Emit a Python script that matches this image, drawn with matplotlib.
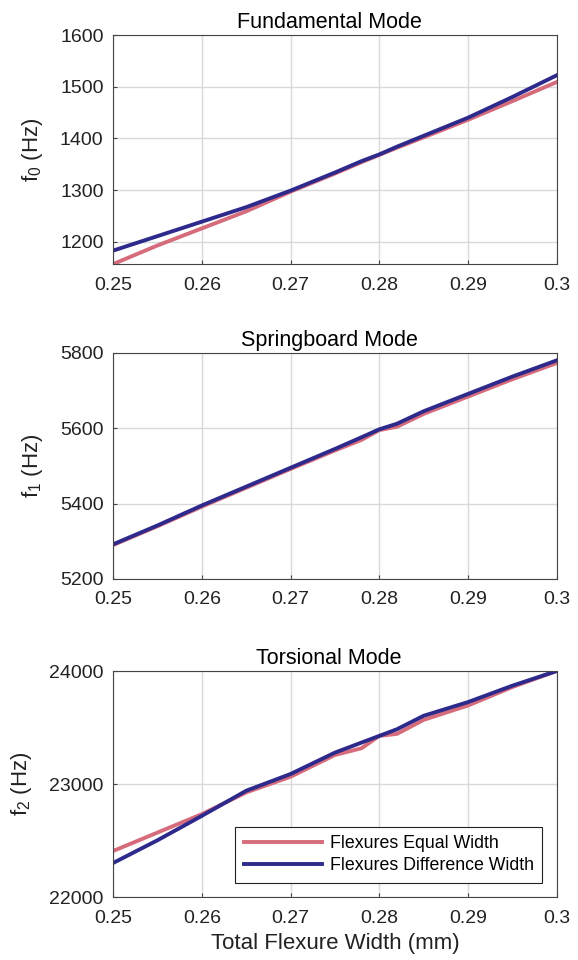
import numpy as np
import matplotlib.pyplot as plt

plt.rcParams['font.family'] = ['Liberation Sans', 'DejaVu Sans']
plt.rcParams['mathtext.default'] = 'regular'

width = [0.25, 0.255, 0.26, 0.265, 0.27, 0.275, 0.278, 0.28, 0.282, 0.285, 0.29, 0.295, 0.30]

# fundamental mode (Hz)
f0_equal = [1157, 1193, 1226, 1259, 1297, 1332, 1354, 1368, 1382, 1402, 1436, 1472, 1509]
f0_diff = [1183, 1211, 1239, 1267, 1299, 1334, 1356, 1369, 1384, 1405, 1440, 1480, 1522]

# springboard mode (Hz)
f1_equal = [5290, 5340, 5392, 5442, 5492, 5541, 5569, 5595, 5604, 5638, 5684, 5730, 5773]
f1_diff = [5292, 5342, 5395, 5445, 5495, 5545, 5576, 5597, 5612, 5645, 5691, 5737, 5780]

# torsional mode (Hz)
f2_equal = [22408, 22571, 22734, 22926, 23065, 23257, 23317, 23426, 23444, 23568, 23695, 23858, 24000]
f2_diff = [22302, 22503, 22719, 22941, 23089, 23278, 23367, 23426, 23485, 23604, 23725, 23870, 24000]

titles = ['Fundamental Mode', 'Springboard Mode', 'Torsional Mode']
ylabels = ['f$_0$ (Hz)', 'f$_1$ (Hz)', 'f$_2$ (Hz)']
ylims = [(1157, 1600), (5200, 5800), (22000, 24000)]
yticks = [[1200, 1300, 1400, 1500, 1600], [5200, 5400, 5600, 5800], [22000, 23000, 24000]]
data = [(f0_equal, f0_diff), (f1_equal, f1_diff), (f2_equal, f2_diff)]

red = '#d66b7b'
blue = '#2d2a8c'

fig = plt.figure(figsize=(5.78, 9.6), dpi=100)
bottoms = [0.725, 0.397, 0.0656]
heights = [0.2385, 0.2354, 0.2354]

for i in range(3):
    ax = fig.add_axes([0.196, bottoms[i], 0.767, heights[i]])
    eq, df = data[i]
    ax.plot(width, eq, color=red, lw=2.8, label='Flexures Equal Width')
    ax.plot(width, df, color=blue, lw=2.8, label='Flexures Difference Width')
    ax.set_xlim(0.25, 0.30)
    ax.set_ylim(*ylims[i])
    ax.set_xticks([0.25, 0.26, 0.27, 0.28, 0.29, 0.30])
    ax.set_xticklabels(['0.25', '0.26', '0.27', '0.28', '0.29', '0.3'])
    ax.set_yticks(yticks[i])
    ax.grid(True, color='#d9d9d9', lw=1)
    ax.set_axisbelow(True)
    ax.tick_params(labelsize=14, direction='in', length=3, pad=7,
                   color='#444444', labelcolor='#222222')
    ax.tick_params(axis='x', pad=9)
    for s in ax.spines.values():
        s.set_color('#444444')
        s.set_linewidth(0.8)
    ax.set_title(titles[i], fontsize=15.5, pad=5, x=0.487)
    ax.set_ylabel(ylabels[i], fontsize=16, color='#222222', labelpad=11)
    if i == 2:
        ax.set_xlabel('Total Flexure Width (mm)', fontsize=16, color='#222222', labelpad=5)
        leg = ax.legend(loc='lower right', fontsize=12.8, fancybox=False, framealpha=1,
                        edgecolor='#222222', handlelength=4.4, handletextpad=0.4,
                        borderaxespad=0.8, labelspacing=0.25, borderpad=0.5)
        leg.get_frame().set_linewidth(0.8)

fig.savefig('out.png', dpi=100)
